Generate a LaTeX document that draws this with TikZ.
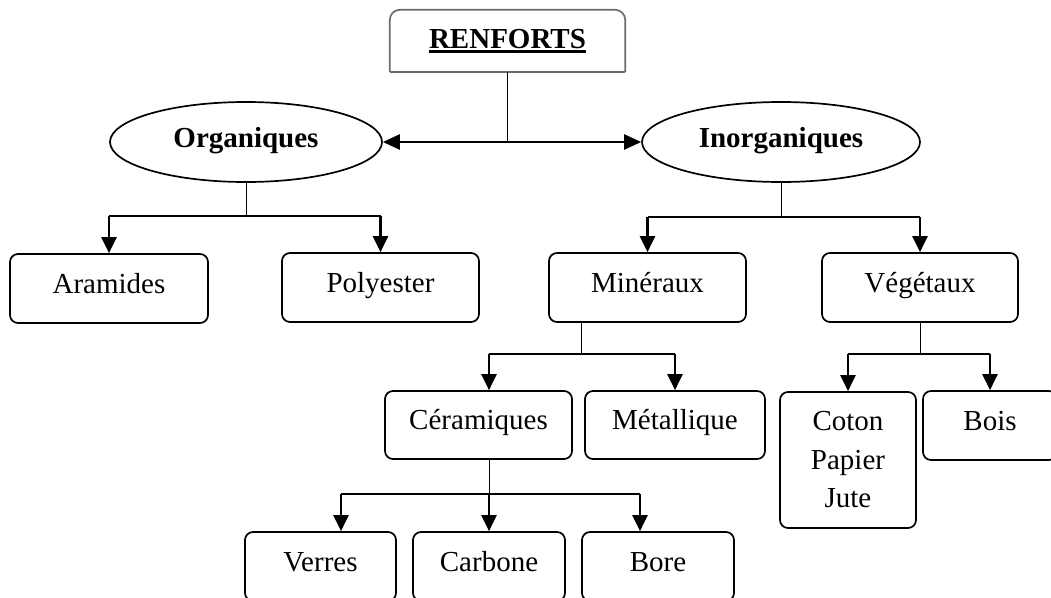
\documentclass[tikz,border=0pt]{standalone}
\usepackage{fontspec}
\setmainfont{Liberation Serif}
\usetikzlibrary{shapes.geometric,arrows.meta}
\newcommand{\renftext}{{\setbox0\hbox{\bfseries RENFORTS}\copy0\llap{\rule[-5pt]{\wd0}{2.6pt}}}}
\begin{document}
\begin{tikzpicture}[x=1pt,y=-1pt,
  every node/.style={font=\fontsize{29}{38.5}\selectfont},
  box/.style={draw, line width=1.7pt, rounded corners=8pt, inner sep=0pt},
  one/.style={text height=20pt, text depth=11pt},
  oval/.style={draw, ellipse, line width=1.7pt, inner sep=0pt, text height=20pt, text depth=10pt,
    font=\fontsize{29}{38}\selectfont\bfseries},
  stem/.style={line width=0.9pt},
  hl/.style={line width=1.2pt},
  drop/.style={line width=2.4pt, -{Triangle[length=16pt,width=15pt]}},
  dbl/.style={line width=2.6pt, {Triangle[length=17pt,width=15pt]}-{Triangle[length=17pt,width=15pt]}},
  topbox/.style={draw=gray!85!black, line width=1.7pt},
]
\useasboundingbox (0,0) rectangle (1051,597);
\clip (0,0) rectangle (1051,597);

% title
\node[minimum width=235pt, minimum height=62pt, inner sep=0pt, text height=20pt, text depth=6pt] (renf) at (507.5,41) {\renftext};
\draw[topbox, rounded corners=10pt] (renf.south west) -- (renf.north west) -- (renf.north east) -- (renf.south east);
\draw[topbox] (renf.south west) -- (renf.south east);

% level 1
\node[oval, minimum width=272pt, minimum height=80pt] (org) at (246,142) {Organiques};
\node[oval, minimum width=278pt, minimum height=80pt] (inorg) at (781,142) {Inorganiques};

% level 2
\node[box, one, minimum width=198pt, minimum height=69pt] (aram) at (109,288.5) {Aramides};
\node[box, one, minimum width=197pt, minimum height=69pt] (poly) at (380.5,287.5) {Polyester};
\node[box, one, minimum width=197pt, minimum height=69pt] (mine) at (647.5,287.5) {Minéraux};
\node[box, one, minimum width=196pt, minimum height=69pt] (vege) at (920,287.5) {Végétaux};

% level 3
\node[box, one, minimum width=187pt, minimum height=68pt] (cera) at (478.5,425) {Céramiques};
\node[box, one, minimum width=180pt, minimum height=68pt] (meta) at (675,425) {Métallique};
\node[box, align=center, minimum width=136pt, minimum height=136pt] (coton) at (848,460) {Coton\\Papier\\Jute};
\node[box, one, minimum width=134pt, minimum height=69pt] (bois) at (990,425.5) {Bois};

% level 4
\node[box, one, minimum width=151pt, minimum height=69pt] (verres) at (320.5,566.5) {Verres};
\node[box, one, minimum width=152pt, minimum height=69pt] (carb) at (489,566.5) {Carbone};
\node[box, one, minimum width=152pt, minimum height=69pt] (bore) at (658,566.5) {Bore};

% junctions
\coordinate (jt) at (renf.south |- org.east);
\coordinate (jo) at (246,216);
\coordinate (ji) at (781,217);
\coordinate (jm) at (581,354);
\coordinate (jv) at (920,354);
\coordinate (jc) at (489,494);
\coordinate (cA) at ([xshift=10.5pt]cera.north);
\coordinate (vA) at ([xshift=20.5pt]verres.north);
\coordinate (bA) at ([xshift=-18pt]bore.north);

% top connectors
\draw[stem] (renf.south) -- (jt);
\draw[dbl] (org.east) -- (inorg.west);

% organiques
\draw[stem] (org.south) -- (jo);
\draw[hl] (aram.north |- jo) -- (poly.north |- jo);
\draw[drop] (aram.north |- jo) -- (aram.north);
\draw[drop] (poly.north |- jo) -- (poly.north);

% inorganiques
\draw[stem] (inorg.south) -- (ji);
\draw[hl] (mine.north |- ji) -- (vege.north |- ji);
\draw[drop] (mine.north |- ji) -- (mine.north);
\draw[drop] (vege.north |- ji) -- (vege.north);

% mineraux
\draw[stem] (jm |- mine.south) -- (jm);
\draw[hl] (cA |- jm) -- (meta.north |- jm);
\draw[drop] (cA |- jm) -- (cA);
\draw[drop] (meta.north |- jm) -- (meta.north);

% vegetaux
\draw[stem] (vege.south) -- (jv);
\draw[hl] (coton.north |- jv) -- (bois.north |- jv);
\draw[drop] (coton.north |- jv) -- (coton.north);
\draw[drop] (bois.north |- jv) -- (bois.north);

% ceramiques
\draw[stem] (jc |- cera.south) -- (jc);
\draw[hl] (vA |- jc) -- (bA |- jc);
\draw[drop] (vA |- jc) -- (vA);
\draw[drop] (carb.north |- jc) -- (carb.north);
\draw[drop] (bA |- jc) -- (bA);
\end{tikzpicture}
\end{document}
